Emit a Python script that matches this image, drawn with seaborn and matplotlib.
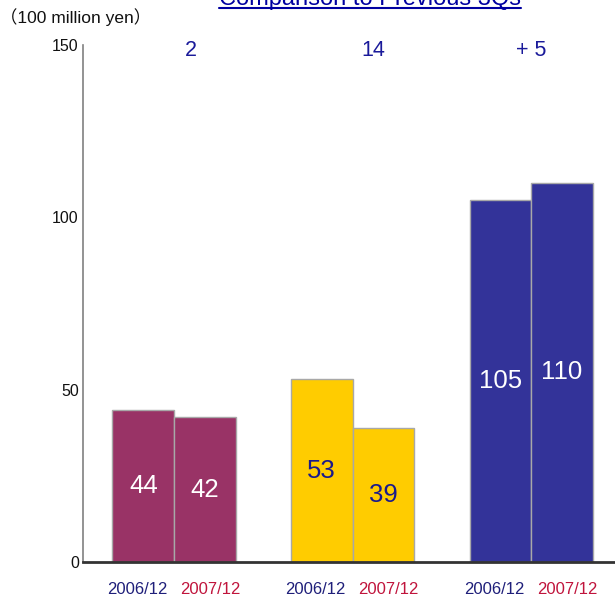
import matplotlib
matplotlib.use("Agg")
import matplotlib.pyplot as plt
from matplotlib.lines import Line2D
import seaborn as sns
import pandas as pd

# ---- data ----
categories = ["A", "B", "C"]
periods = ["2006/12", "2007/12"]
values_2006 = [44, 53, 105]
values_2007 = [42, 39, 110]
change_labels = ["2", "14", "+ 5"]
title_text = "Comparison to Previous 3Qs"
unit_text = "（100 million yen）"
y_ticks = [0, 50, 100, 150]

bar_colors = ["#993366", "#FFCC00", "#333399"]
value_text_colors = ["white", "#1a1a8c", "white"]
period_colors = ["#1f1f7a", "#c0143c"]

df = pd.DataFrame({
    "category": categories * 2,
    "period": [periods[0]] * 3 + [periods[1]] * 3,
    "value": values_2006 + values_2007,
})

sns.set_style("white")
plt.rcParams["font.family"] = ["Liberation Sans", "Noto Sans CJK JP", "DejaVu Sans"]

fig = plt.figure(figsize=(6.15, 6.06), dpi=100)
W, H = 615, 606
ax = fig.add_axes([83 / W, (H - 562) / H, (W - 83) / W, (562 - 45) / H])

sns.barplot(data=df, x="category", y="value", hue="period", order=categories,
            hue_order=periods, width=0.69, ax=ax, legend=False,
            edgecolor="#a8a8a8", linewidth=1, saturation=1)

ax.set_ylim(0, 150)
ax.set_xlim(-0.51, 2.47)

bars = [b for b in ax.patches if b.get_height() > 0]
for b in bars:
    xc = b.get_x() + b.get_width() / 2
    ci = int(round(xc))
    pi = 0 if xc < ci else 1
    b.set_facecolor(bar_colors[ci])
    h = b.get_height()
    ax.text(xc, h / 2, f"{h:.0f}", ha="center", va="center", fontsize=18.5,
            color=value_text_colors[ci])
    ax.annotate(periods[pi], xy=(xc, 0), xycoords=("data", "axes fraction"),
                xytext=(-6 if pi == 0 else 5, -28), textcoords="offset pixels",
                ha="center", va="center", fontsize=12,
                color=period_colors[pi])

change_offsets = [0.095, 0.118, 0.0]
for i, lab in enumerate(change_labels):
    ax.text(i + change_offsets[i], 148.5, lab, ha="center", va="center",
            fontsize=15.5, color="#1a1a9a")

ax.set_yticks(y_ticks)
ax.set_yticklabels([str(t) for t in y_ticks])
ax.tick_params(axis="y", direction="in", length=7, width=1, color="#808080",
               labelsize=11.5, pad=3, labelcolor="#111111")
ax.tick_params(axis="x", length=0, labelbottom=False)
ax.set_xlabel("")
ax.set_ylabel("")
for s in ["top", "right"]:
    ax.spines[s].set_visible(False)
ax.spines["left"].set_color("#808080")
ax.spines["left"].set_linewidth(1.2)
ax.spines["bottom"].set_color("#333333")
ax.spines["bottom"].set_linewidth(2)

fig.text(0 / W, 1 - 17 / H, unit_text, ha="left", va="center", fontsize=12.5,
         color="#111111")

t = fig.text(370 / W, 1 - 5 / H, title_text, ha="center", va="baseline",
             fontsize=17, color="#0000a0")
fig.canvas.draw()
bb = t.get_window_extent(renderer=fig.canvas.get_renderer())
fig.add_artist(Line2D([bb.x0 / W, bb.x1 / W], [1 - 8 / H, 1 - 8 / H],
                      transform=fig.transFigure, color="#0000a0", linewidth=1.5))

fig.savefig("out.png", dpi=100)
